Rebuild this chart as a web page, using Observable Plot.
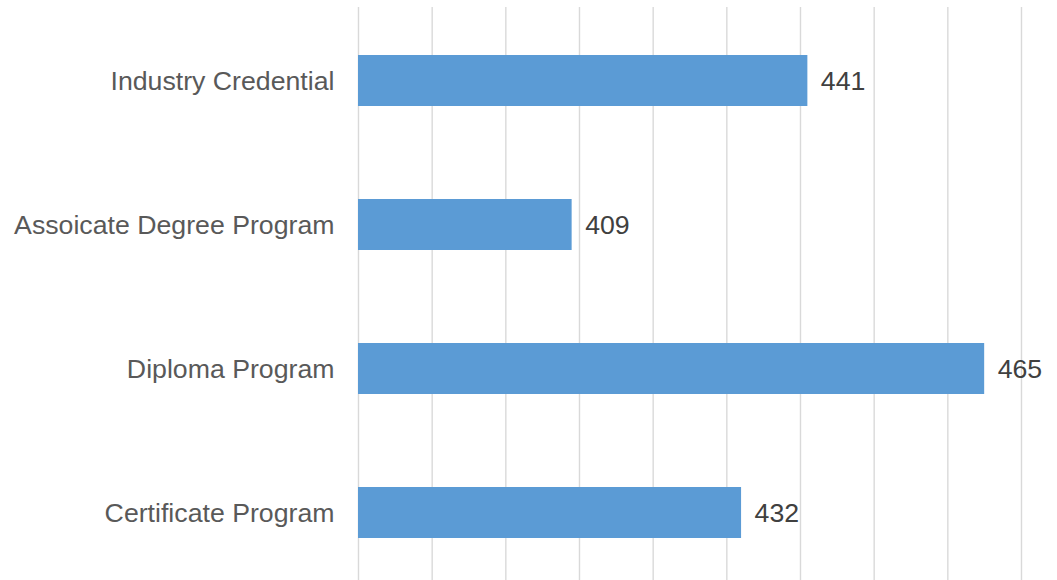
<!DOCTYPE html>
<html>
<head>
<meta charset="utf-8">
<script src="https://cdn.jsdelivr.net/npm/d3@7"></script>
<script src="https://cdn.jsdelivr.net/npm/@observablehq/plot@0.6"></script>
<style>
  html, body { margin: 0; padding: 0; background: #fff; }
  svg { display: block; font-family: "Liberation Sans", Arial, sans-serif; }
</style>
</head>
<body>
<div id="chart"></div>
<script>
const categories = ["Industry Credential", "Assoicate Degree Program", "Diploma Program", "Certificate Program"];
const values = [441, 409, 465, 432];
const axisMin = 380;
const axisMax = 470;
const gridTicks = d3.range(axisMin, axisMax + 1, 10);

const data = categories.map((c, i) => ({category: c, value: values[i]}));

const chart = Plot.plot({
  width: 1057,
  height: 580,
  marginLeft: 358,
  marginRight: 36,
  marginTop: 7,
  marginBottom: 0,
  style: {fontFamily: "'Liberation Sans', Arial, sans-serif", background: "#fff"},
  x: {domain: [axisMin, axisMax], axis: null},
  y: {domain: categories, range: [7.5, 585.5], paddingInner: 0.645, paddingOuter: 0.3225, axis: null},
  marks: [
    Plot.ruleX(gridTicks, {stroke: "#d9d9d9", strokeWidth: 1.4, strokeOpacity: 1}),
    Plot.barX(data, {y: "category", x1: () => axisMin, x2: "value", fill: "#5b9bd5"}),
    Plot.text(data, {y: "category", x: "value", text: d => String(d.value), textAnchor: "start", dx: 13, fontSize: 26.7, fill: "#404040"}),
    Plot.axisY({tickSize: 0, tickPadding: 24, fontSize: 26.7, fill: "#595959", label: null})
  ]
});
document.getElementById("chart").appendChild(chart);
</script>
</body>
</html>
